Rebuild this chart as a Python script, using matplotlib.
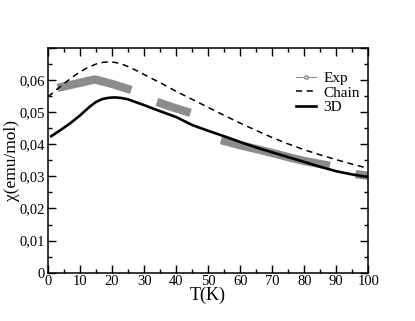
import matplotlib
matplotlib.use('Agg')
import matplotlib.pyplot as plt
from matplotlib.ticker import MultipleLocator, FuncFormatter

plt.rcParams['font.family'] = ['Liberation Serif', 'DejaVu Serif']

# theoretical curves
T_chain = [0, 3, 6, 9, 12, 15, 17, 19, 21, 23, 25, 28, 31, 35, 40, 45, 50, 55, 60, 65,
           70, 75, 80, 85, 90, 95, 100]
chi_chain = [0.0548, 0.0573, 0.0597, 0.0619, 0.0637, 0.0650, 0.0655, 0.0657, 0.0655, 0.0650,
             0.0642, 0.0628, 0.0612, 0.0592, 0.0565, 0.0540, 0.0515, 0.0490, 0.0466, 0.0443,
             0.0421, 0.0401, 0.0383, 0.0367, 0.0352, 0.0338, 0.0325]

T_3d = [1, 4, 7, 10, 13, 15, 17, 19, 21, 23, 25, 30, 35, 40, 45, 50, 55, 60, 65, 70, 75,
        80, 85, 90, 95, 100]
chi_3d = [0.0425, 0.0445, 0.0466, 0.0490, 0.0517, 0.0532, 0.0541, 0.0545, 0.0546, 0.0544,
          0.0540, 0.0522, 0.0503, 0.0485, 0.0460, 0.0442, 0.0425, 0.0407, 0.0390, 0.0375,
          0.0360, 0.0345, 0.0330, 0.0316, 0.0306, 0.0298]

# experimental data, in four pieces
exp_T = [[3, 8, 14.6, 20, 26], [34, 39, 44.5], [54, 60, 66, 70, 75, 80, 88], [96, 100]]
exp_chi = [[0.0576, 0.0587, 0.0602, 0.0588, 0.0569], [0.0532, 0.0515, 0.0498],
           [0.0413, 0.0397, 0.0383, 0.0373, 0.0360, 0.0348, 0.0333], [0.0307, 0.0302]]

fig = plt.figure(figsize=(4.15, 3.21), dpi=100)
ax = fig.add_axes([0.1157, 0.1505, 0.7718, 0.70])

for i in range(len(exp_T)):
    ax.plot(exp_T[i], exp_chi[i], color='#8c8c8c', lw=6, solid_capstyle='butt', zorder=1)
# legend proxy for Exp
ax.plot([], [], color='#8c8c8c', lw=0.8, marker='o', ms=2.5, mfc='white', mec='#8c8c8c',
        label='Exp')
ax.plot(T_chain, chi_chain, color='black', ls=(0, (4, 3)), lw=1.1, label='Chain', zorder=2)
ax.plot(T_3d, chi_3d, color='black', lw=1.9, label='3D', zorder=3)

ax.set_xlim(0, 100)
ax.set_ylim(0, 0.07)
ax.xaxis.set_major_locator(MultipleLocator(10))
ax.xaxis.set_minor_locator(MultipleLocator(5))
ax.yaxis.set_major_locator(MultipleLocator(0.01))
ax.yaxis.set_minor_locator(MultipleLocator(0.005))

def yfmt(v, pos):
    if abs(v) < 1e-9:
        return '0'
    if v > 0.0695:
        return ''
    return ('%.2f' % v).replace('.', ',')

ax.yaxis.set_major_formatter(FuncFormatter(yfmt))
ax.tick_params(which='both', direction='in', top=True, right=True, labelsize=10.5, pad=2)
ax.tick_params(which='major', length=6, width=1)
ax.tick_params(which='minor', length=3, width=1)
for s in ax.spines.values():
    s.set_linewidth(1.1)

ax.set_xlabel('T(K)', fontsize=13, labelpad=-1)
ax.set_ylabel('χ(emu/mol)', fontsize=12.5)
ax.yaxis.set_label_coords(-0.086, 0.5)

ax.legend(loc='upper left', bbox_to_anchor=(0.75, 0.93), frameon=False, fontsize=11,
          handlelength=1.3, handletextpad=0.5, labelspacing=0.05, borderpad=0)

fig.savefig('out.png', dpi=100)
